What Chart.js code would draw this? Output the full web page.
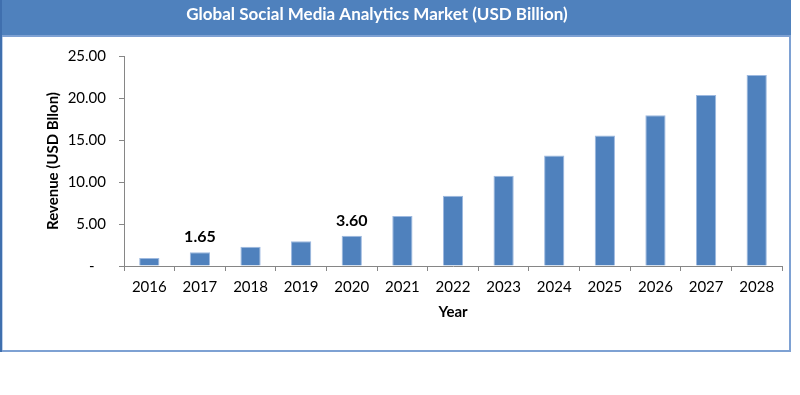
<!DOCTYPE html>
<html>
<head>
<meta charset="utf-8">
<script src="https://cdn.jsdelivr.net/npm/chart.js@4/dist/chart.umd.min.js"></script>
<style>
html,body{margin:0;padding:0;background:#fff;}
#wrap{width:800px;height:395px;position:relative;}
</style>
</head>
<body>
<div id="wrap"><canvas id="c" width="800" height="395"></canvas></div>
<script>
const titleText = 'Global Social Media Analytics Market (USD Billion)';
const years = ['2016','2017','2018','2019','2020','2021','2022','2023','2024','2025','2026','2027','2028'];
const revenue = [0.95, 1.65, 2.3, 2.95, 3.6, 5.95, 8.35, 10.75, 13.15, 15.55, 17.95, 20.35, 22.75];
const valueLabels = [null, '1.65', null, null, '3.60', null, null, null, null, null, null, null, null];
const yTicks = [0, 5, 10, 15, 20, 25];
const yTitle = 'Revenue (USD Bllon)';
const xTitle = 'Year';

const FONT = 'Lato, "Open Sans", sans-serif';

const framePlugin = {
  id: 'frame',
  beforeDraw(chart) {
    const ctx = chart.ctx;
    ctx.save();
    ctx.fillStyle = '#fff';
    ctx.fillRect(0, 0, 800, 395);
    ctx.strokeStyle = '#7EA1D3';
    ctx.lineWidth = 2;
    ctx.strokeRect(1.5, 36, 788.5, 315);
    ctx.fillStyle = '#4F81BD';
    ctx.fillRect(0, 0, 791, 35);
    ctx.fillStyle = '#3F6FAE';
    ctx.fillRect(0, 0, 2, 352);
    ctx.fillStyle = '#fff';
    ctx.font = 'bold 17px ' + FONT;
    ctx.textAlign = 'center';
    ctx.textBaseline = 'middle';
    ctx.fillText(titleText, 377, 15);
    ctx.restore();
  },
  afterDatasetsDraw(chart) {
    const ctx = chart.ctx;
    const meta = chart.getDatasetMeta(0);
    ctx.save();
    ctx.fillStyle = '#000';
    ctx.font = 'bold 16px ' + FONT;
    ctx.textAlign = 'center';
    ctx.textBaseline = 'middle';
    meta.data.forEach((bar, i) => {
      if (valueLabels[i]) ctx.fillText(valueLabels[i], bar.x, bar.y - 15);
    });
    ctx.restore();
  }
};

new Chart(document.getElementById('c'), {
  type: 'bar',
  data: {
    labels: years,
    datasets: [{
      data: revenue,
      backgroundColor: '#4F81BD',
      borderColor: '#9DB9E0',
      borderWidth: 1,
      barPercentage: 0.4,
      categoryPercentage: 1.0
    }]
  },
  options: {
    responsive: false,
    animation: false,
    devicePixelRatio: 1,
    layout: { padding: { left: 0, right: 18, top: 56, bottom: 74 } },
    plugins: { legend: { display: false }, tooltip: { enabled: false }, title: { display: false } },
    scales: {
      x: {
        grid: { display: true, drawOnChartArea: false, drawTicks: true, tickLength: 5, color: '#868686', offset: true },
        border: { display: true, color: '#868686', width: 1 },
        ticks: { color: '#000', font: { family: FONT, size: 15 }, padding: 7, maxRotation: 0 },
        title: { display: true, text: xTitle, color: '#000', font: { family: FONT, size: 15, weight: 'bold' }, padding: { top: 0, bottom: 0 } }
      },
      y: {
        min: 0, max: 25,
        afterBuildTicks(scale) { scale.ticks = yTicks.map(v => ({ value: v })); },
        afterFit(scale) { scale.width = 124; },
        grid: { display: true, drawOnChartArea: false, drawTicks: true, tickLength: 5, color: '#868686' },
        border: { display: true, color: '#868686', width: 1 },
        ticks: {
          color: '#000', font: { family: FONT, size: 15 }, padding: 13,
          callback: v => v === 0 ? '-   ' : Number(v).toFixed(2)
        },
        title: { display: true, text: yTitle, color: '#000', font: { family: FONT, size: 15, weight: 'bold' }, padding: { top: 44, bottom: 0 } }
      }
    }
  },
  plugins: [framePlugin]
});
</script>
</body>
</html>
